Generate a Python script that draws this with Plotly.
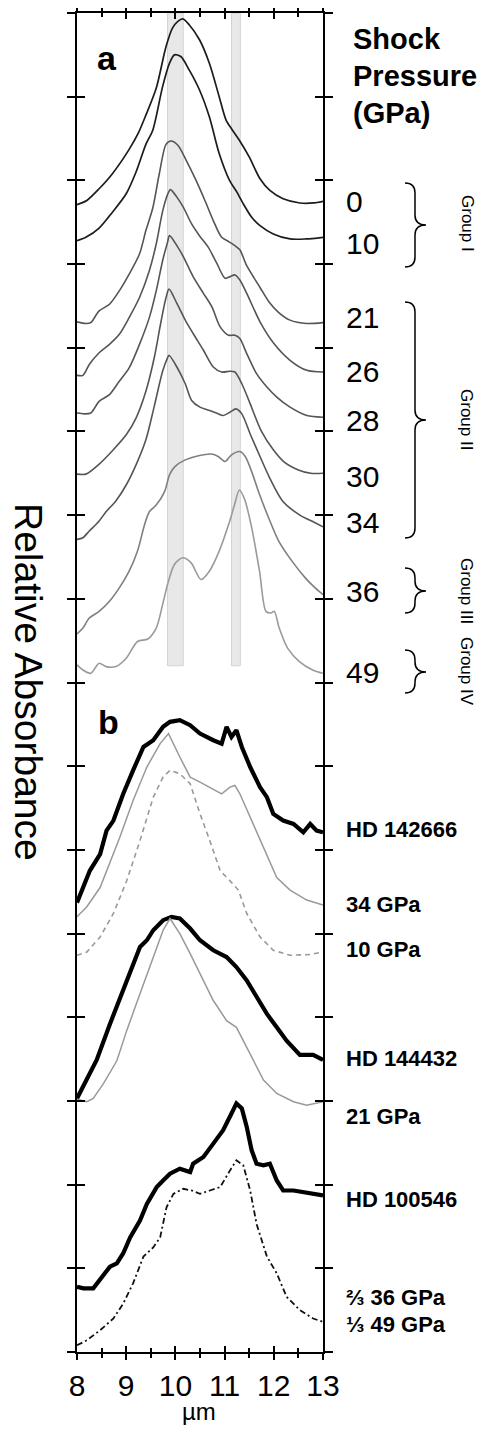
import plotly.graph_objects as go

# ---------------- data (x in µm, y in relative absorbance units, offset stacked) -------------
pressures = ["0", "10", "21", "26", "28", "30", "34", "36", "49"]

x_0 = [8.0, 8.2, 8.45, 8.72, 9.06, 9.25, 9.4, 9.61, 9.81, 9.94, 10.05, 10.15, 10.28, 10.49, 10.69, 10.89, 11.03, 11.16, 11.3, 11.5, 11.72, 11.92, 12.19, 12.53, 12.8, 13.0]
y_0 = [13.71, 13.76, 13.9, 14.08, 14.37, 14.57, 14.78, 15.1, 15.6, 15.82, 15.9, 15.93, 15.86, 15.68, 15.4, 15.0, 14.72, 14.6, 14.48, 14.28, 14.02, 13.88, 13.78, 13.73, 13.73, 13.75]

x_10 = [8.0, 8.18, 8.45, 8.72, 9.0, 9.2, 9.4, 9.54, 9.74, 9.88, 9.98, 10.11, 10.28, 10.49, 10.69, 10.89, 11.1, 11.25, 11.4, 11.55, 11.72, 11.99, 12.33, 12.65, 13.0]
y_10 = [13.28, 13.32, 13.43, 13.62, 13.84, 14.1, 14.43, 14.6, 15.12, 15.4, 15.5, 15.48, 15.32, 15.08, 14.76, 14.32, 14.0, 13.86, 13.7, 13.56, 13.46, 13.36, 13.3, 13.3, 13.32]

x_21 = [8.0, 8.18, 8.28, 8.45, 8.66, 8.86, 9.06, 9.27, 9.4, 9.54, 9.67, 9.81, 9.91, 10.05, 10.22, 10.42, 10.6, 10.77, 10.94, 11.08, 11.21, 11.31, 11.45, 11.72, 11.9, 12.1, 12.33, 12.67, 13.0]
y_21 = [12.31, 12.29, 12.3, 12.44, 12.52, 12.68, 12.88, 13.12, 13.4, 13.67, 14.07, 14.43, 14.47, 14.42, 14.24, 14.0, 13.76, 13.52, 13.32, 13.27, 13.22, 13.17, 12.98, 12.72, 12.55, 12.42, 12.33, 12.29, 12.3]

x_26 = [8.0, 8.12, 8.25, 8.45, 8.66, 8.86, 9.06, 9.27, 9.47, 9.61, 9.74, 9.84, 9.9, 10.03, 10.16, 10.33, 10.5, 10.67, 10.84, 11.01, 11.11, 11.21, 11.31, 11.45, 11.72, 11.99, 12.33, 12.67, 13.0]
y_26 = [11.67, 11.67, 11.8, 11.94, 12.04, 12.16, 12.36, 12.6, 12.92, 13.24, 13.63, 13.83, 13.89, 13.8, 13.68, 13.48, 13.33, 13.2, 13.01, 12.83, 12.85, 12.87, 12.81, 12.65, 12.31, 12.06, 11.85, 11.73, 11.71]

x_28 = [8.0, 8.15, 8.28, 8.45, 8.66, 8.86, 9.06, 9.27, 9.47, 9.61, 9.74, 9.84, 9.88, 10.03, 10.16, 10.36, 10.57, 10.74, 10.91, 11.08, 11.21, 11.31, 11.45, 11.65, 11.86, 12.06, 12.33, 12.67, 13.0]
y_28 = [11.22, 11.21, 11.22, 11.36, 11.44, 11.6, 11.76, 12.04, 12.36, 12.68, 13.04, 13.26, 13.34, 13.22, 13.09, 12.85, 12.65, 12.49, 12.25, 12.15, 12.15, 12.11, 11.93, 11.69, 11.53, 11.41, 11.29, 11.19, 11.17]

x_30 = [8.0, 8.18, 8.45, 8.72, 9.0, 9.2, 9.4, 9.57, 9.71, 9.81, 9.87, 10.03, 10.2, 10.36, 10.57, 10.77, 10.94, 11.11, 11.21, 11.35, 11.52, 11.75, 11.99, 12.2, 12.5, 12.75, 13.0]
y_30 = [10.49, 10.49, 10.61, 10.77, 10.96, 11.16, 11.48, 11.88, 12.32, 12.6, 12.7, 12.53, 12.33, 12.17, 11.97, 11.77, 11.71, 11.72, 11.71, 11.57, 11.33, 11.0, 10.78, 10.64, 10.54, 10.5, 10.5]

x_34 = [8.0, 8.12, 8.25, 8.45, 8.59, 8.79, 9.0, 9.2, 9.4, 9.57, 9.74, 9.84, 9.87, 10.03, 10.2, 10.33, 10.5, 10.7, 10.87, 10.97, 11.11, 11.23, 11.35, 11.52, 11.72, 11.92, 12.19, 12.53, 12.8, 13.0]
y_34 = [9.71, 9.73, 9.81, 9.93, 10.04, 10.17, 10.36, 10.6, 10.9, 11.3, 11.72, 11.88, 11.91, 11.77, 11.57, 11.37, 11.29, 11.25, 11.21, 11.19, 11.23, 11.27, 11.21, 10.97, 10.7, 10.44, 10.16, 10.0, 9.92, 9.86]

x_36 = [8.0, 8.12, 8.25, 8.45, 8.66, 8.86, 9.06, 9.23, 9.37, 9.47, 9.61, 9.78, 9.88, 9.99, 10.2, 10.47, 10.74, 10.87, 11.01, 11.14, 11.31, 11.42, 11.55, 11.69, 11.9, 12.1, 12.37, 12.64, 12.84, 13.0]
y_36 = [8.58, 8.65, 8.77, 8.85, 8.97, 9.13, 9.33, 9.57, 9.88, 10.04, 10.12, 10.28, 10.48, 10.58, 10.66, 10.71, 10.73, 10.7, 10.64, 10.72, 10.76, 10.7, 10.52, 10.28, 9.96, 9.69, 9.45, 9.25, 9.13, 9.05]

x_49 = [8.0, 8.12, 8.28, 8.45, 8.59, 8.79, 9.0, 9.23, 9.44, 9.61, 9.74, 9.84, 9.98, 10.15, 10.32, 10.52, 10.69, 10.89, 11.1, 11.2, 11.3, 11.4, 11.54, 11.71, 11.84, 11.94, 12.01, 12.11, 12.28, 12.52, 12.79, 13.0]
y_49 = [8.21, 8.15, 8.11, 8.23, 8.19, 8.19, 8.29, 8.49, 8.52, 8.65, 8.93, 9.17, 9.41, 9.49, 9.43, 9.23, 9.33, 9.57, 9.92, 10.12, 10.3, 10.2, 9.88, 9.33, 8.85, 8.83, 8.85, 8.65, 8.41, 8.25, 8.15, 8.11]

# panel b
x_hd142666 = [8.0, 8.13, 8.26, 8.47, 8.6, 8.74, 8.94, 9.14, 9.35, 9.55, 9.75, 9.89, 10.09, 10.3, 10.5, 10.77, 10.94, 11.04, 11.14, 11.24, 11.35, 11.52, 11.72, 11.86, 11.99, 12.19, 12.4, 12.6, 12.74, 12.87, 13.0]
y_hd142666 = [5.37, 5.55, 5.75, 5.95, 6.23, 6.35, 6.67, 6.95, 7.23, 7.31, 7.47, 7.53, 7.55, 7.49, 7.39, 7.31, 7.27, 7.47, 7.35, 7.43, 7.23, 6.99, 6.75, 6.63, 6.43, 6.35, 6.31, 6.21, 6.31, 6.23, 6.21]

x_b34 = [8.0, 8.2, 8.47, 8.87, 9.14, 9.42, 9.69, 9.86, 10.09, 10.3, 10.5, 10.77, 10.94, 11.11, 11.21, 11.31, 11.58, 11.86, 12.06, 12.33, 12.67, 13.0]
y_b34 = [5.2, 5.32, 5.55, 6.15, 6.59, 6.99, 7.27, 7.39, 7.11, 6.87, 6.81, 6.73, 6.67, 6.75, 6.77, 6.67, 6.31, 5.95, 5.67, 5.52, 5.4, 5.34]

x_b10 = [8.0, 8.2, 8.47, 8.74, 9.01, 9.28, 9.55, 9.75, 9.89, 10.09, 10.3, 10.5, 10.7, 10.91, 11.11, 11.28, 11.45, 11.72, 11.99, 12.33, 12.74, 13.0]
y_b10 = [4.74, 4.78, 4.96, 5.24, 5.63, 6.11, 6.63, 6.87, 6.95, 6.91, 6.79, 6.43, 6.11, 5.75, 5.63, 5.52, 5.24, 4.96, 4.8, 4.74, 4.75, 4.78]

x_hd144432 = [8.0, 8.2, 8.4, 8.67, 8.94, 9.14, 9.28, 9.42, 9.55, 9.75, 9.92, 10.09, 10.3, 10.5, 10.77, 11.04, 11.24, 11.45, 11.65, 11.86, 12.06, 12.26, 12.53, 12.8, 13.0]
y_hd144432 = [3.03, 3.25, 3.49, 3.92, 4.32, 4.64, 4.84, 4.92, 5.04, 5.16, 5.2, 5.18, 5.06, 4.92, 4.8, 4.72, 4.6, 4.44, 4.24, 4.04, 3.88, 3.72, 3.55, 3.55, 3.49]

x_b21 = [8.0, 8.2, 8.33, 8.54, 8.81, 9.01, 9.28, 9.55, 9.75, 9.89, 10.09, 10.3, 10.5, 10.77, 11.04, 11.24, 11.45, 11.58, 11.79, 12.06, 12.4, 12.67, 13.0]
y_b21 = [3.02, 2.99, 3.03, 3.21, 3.48, 3.84, 4.28, 4.72, 5.04, 5.18, 5.0, 4.76, 4.52, 4.2, 3.96, 3.88, 3.64, 3.49, 3.25, 3.09, 2.99, 2.95, 2.99]

x_hd100546 = [8.0, 8.13, 8.33, 8.47, 8.67, 8.81, 8.94, 9.08, 9.28, 9.42, 9.62, 9.75, 9.89, 10.09, 10.3, 10.36, 10.57, 10.77, 10.97, 11.14, 11.24, 11.35, 11.45, 11.55, 11.65, 11.79, 11.92, 12.06, 12.19, 12.4, 12.6, 12.8, 13.0]
y_hd100546 = [0.78, 0.76, 0.76, 0.86, 1.02, 1.06, 1.18, 1.37, 1.57, 1.77, 1.97, 2.05, 2.13, 2.19, 2.15, 2.25, 2.33, 2.49, 2.65, 2.85, 2.97, 2.91, 2.69, 2.41, 2.25, 2.23, 2.25, 2.05, 1.93, 1.93, 1.91, 1.89, 1.87]

x_mix = [8.0, 8.2, 8.47, 8.74, 8.94, 9.14, 9.35, 9.55, 9.69, 9.82, 9.96, 10.16, 10.33, 10.5, 10.7, 10.91, 11.11, 11.24, 11.38, 11.52, 11.65, 11.86, 12.06, 12.26, 12.53, 12.8, 13.0]
y_mix = [0.08, 0.14, 0.26, 0.4, 0.58, 0.82, 1.14, 1.25, 1.37, 1.73, 1.89, 1.95, 1.93, 1.89, 1.93, 1.97, 2.17, 2.29, 2.23, 1.93, 1.53, 1.14, 0.94, 0.66, 0.5, 0.4, 0.36]

band_ranges = [(9.84, 10.16), (11.14, 11.32)]
band_bottom = 8.2

xticks = [8, 9, 10, 11, 12, 13]

# ---------------- layout helpers (pixel geometry of the page) ----------------
# the page body has an 8px default margin, so the figure is made 8px smaller
OFF = 8
W, H = 489 - OFF, 1429 - OFF
L, R, T, B = 77 - OFF, 166, 13 - OFF, 77
FONT = "Liberation Sans, Arial, sans-serif"


def xpap(px):
    # px given in page (reference) pixels
    return (px - OFF - L) / (W - L - R)


def ypap(py):
    return (H - B - (py - OFF)) / (H - T - B)


fig = go.Figure()

panel_a = [
    (x_0, y_0, "#1c1c1c", 1.7), (x_10, y_10, "#1c1c1c", 1.7),
    (x_21, y_21, "#555555", 1.6), (x_26, y_26, "#555555", 1.6),
    (x_28, y_28, "#555555", 1.6), (x_30, y_30, "#555555", 1.6),
    (x_34, y_34, "#555555", 1.6), (x_36, y_36, "#7f7f7f", 1.6),
    (x_49, y_49, "#9a9a9a", 1.6),
]
for (xs, ys, col, w), p in zip(panel_a, pressures):
    fig.add_trace(go.Scatter(x=xs, y=ys, mode="lines", name=p + " GPa",
                             line=dict(color=col, width=w, shape="spline", smoothing=0.8),
                             xaxis="x", yaxis="y", showlegend=False, hoverinfo="skip"))

panel_b = [
    (x_hd142666, y_hd142666, "#000000", 4.2, "solid", "HD 142666"),
    (x_b34, y_b34, "#999999", 1.5, "solid", "34 GPa"),
    (x_b10, y_b10, "#999999", 1.6, "5px,4px", "10 GPa"),
    (x_hd144432, y_hd144432, "#000000", 4.2, "solid", "HD 144432"),
    (x_b21, y_b21, "#999999", 1.5, "solid", "21 GPa"),
    (x_hd100546, y_hd100546, "#000000", 4.2, "solid", "HD 100546"),
    (x_mix, y_mix, "#111111", 1.8, "6px,3px,2px,3px", "mix"),
]
for xs, ys, col, w, dash, nm in panel_b:
    fig.add_trace(go.Scatter(x=xs, y=ys, mode="lines", name=nm,
                             line=dict(color=col, width=w, dash=dash),
                             xaxis="x2", yaxis="y2", showlegend=False, hoverinfo="skip"))

# grey reference bands
for x0, x1 in band_ranges:
    fig.add_shape(type="rect", xref="x", yref="y", x0=x0, x1=x1, y0=band_bottom, y1=16,
                  fillcolor="#e8e8e8", line=dict(color="#d4d4d4", width=1), layer="below")


# braces
def brace(top, bot, tip, xl=405, xv=415, xt=426, r=10):
    pts = [
        ("M", [(xl, top)]), ("Q", [(xv, top), (xv, top + r)]), ("L", [(xv, tip - r)]),
        ("Q", [(xv, tip), (xt, tip)]), ("Q", [(xv, tip), (xv, tip + r)]),
        ("L", [(xv, bot - r)]), ("Q", [(xv, bot), (xl, bot)]),
    ]
    s = ""
    for cmd, ps in pts:
        s += cmd + " " + " ".join(f"{xpap(a):.5f},{ypap(b):.5f}" for a, b in ps) + " "
    return s.strip()


for top, bot, tip in [(183, 267, 225), (302, 538, 420), (568, 613, 591), (650, 693, 672)]:
    fig.add_shape(type="path", xref="paper", yref="paper", path=brace(top, bot, tip),
                  line=dict(color="black", width=1.5))

ann = []


def text(s, px, py, size, bold=False, xanchor="left", angle=0, color="black"):
    ann.append(dict(text=f"<b>{s}</b>" if bold else s, x=xpap(px), y=ypap(py), xref="paper", yref="paper",
                    xanchor=xanchor, yanchor="middle", showarrow=False, textangle=angle,
                    font=dict(family=FONT, size=size, color=color)))


text("a", 107, 58, 34, bold=True, xanchor="center")
text("b", 108, 722, 34, bold=True, xanchor="center")
text("Shock", 351, 39, 29, bold=True)
text("Pressure", 351, 76, 29, bold=True)
text("(GPa)", 351, 113, 29, bold=True)

label_y = [202, 244, 317, 371, 421, 476, 522, 591, 672]
for p, py in zip(pressures, label_y):
    text(p, 344, py, 30)

for s, py in [("Group I", 223), ("Group II", 419), ("Group III", 591), ("Group IV", 671)]:
    text(s, 467, py, 17, xanchor="center", angle=90)

b_labels = [("HD 142666", 829), ("34 GPa", 904), ("10 GPa", 949), ("HD 144432", 1058),
            ("21 GPa", 1116), ("HD 100546", 1199), ("⅔ 36 GPa", 1297), ("⅓ 49 GPa", 1324)]
for s, py in b_labels:
    text(s, 344, py, 22, bold=True)

text("Relative Absorbance", 29, 682, 39, xanchor="center", angle=90)
text("µm", 199, 1411, 24, xanchor="center")

fig.update_layout(annotations=ann)

common = dict(showgrid=False, zeroline=False, showline=True, linecolor="black", linewidth=1.5,
              tickcolor="black", tickwidth=1.5, mirror="ticks", automargin=False)

fig.update_layout(
    width=W, height=H, autosize=False,
    margin=dict(l=L, r=R, t=T, b=B, pad=0),
    paper_bgcolor="white", plot_bgcolor="white",
    xaxis=dict(range=[8, 13], tickmode="array", tickvals=xticks, ticktext=[str(v) for v in xticks],
               ticks="outside", ticklen=6,
               minor=dict(ticks="outside", ticklen=4, dtick=0.5, tick0=8, tickcolor="black", tickwidth=1.5),
               tickfont=dict(family=FONT, size=30, color="black"), **common),
    xaxis2=dict(range=[8, 13], overlaying="x", anchor="y2", tickmode="array", tickvals=xticks,
                ticks="inside", ticklen=6, showticklabels=False,
                minor=dict(ticks="inside", ticklen=4, dtick=0.5, tick0=8, tickcolor="black", tickwidth=1.5),
                **common),
    yaxis=dict(range=[0, 16], tickmode="linear", tick0=0, dtick=1, ticks="outside", ticklen=8,
               showticklabels=False, **common),
    yaxis2=dict(range=[0, 16], overlaying="y", anchor="x2", tickmode="linear", tick0=0, dtick=1,
                ticks="inside", ticklen=8, showticklabels=False, **common),
    showlegend=False,
)

fig.write_html("out.html")
